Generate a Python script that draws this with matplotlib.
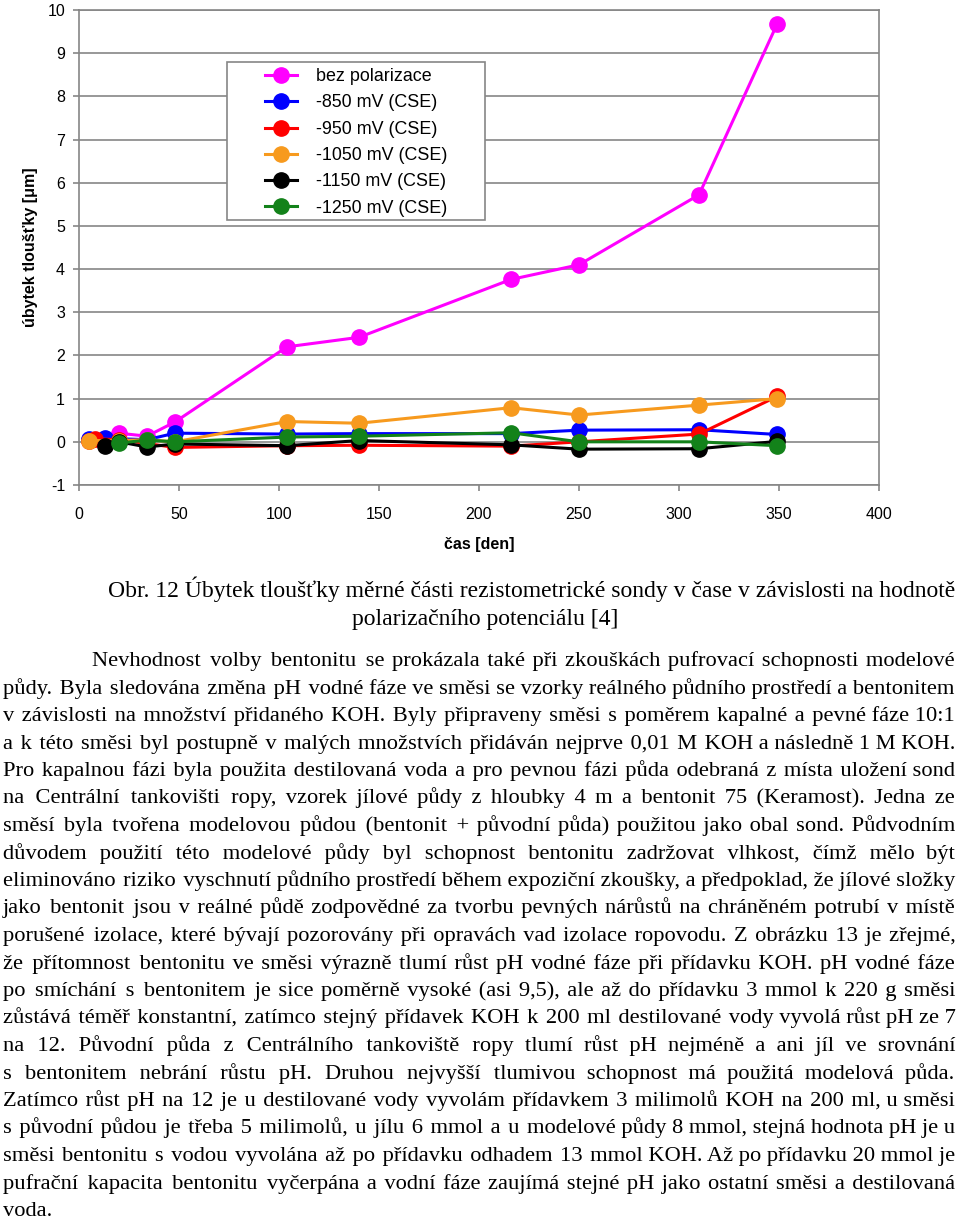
import matplotlib
matplotlib.use("Agg")
import matplotlib.pyplot as plt
from matplotlib.patches import Rectangle

# values (day, thickness loss in um)
days_bez = [5, 20, 34, 48, 104, 140, 216, 250, 310, 349]
bez = [0.05, 0.2, 0.13, 0.46, 2.2, 2.42, 3.76, 4.1, 5.72, 9.67]

days_850 = [5, 13, 34, 48, 104, 140, 216, 250, 310, 349]
mv_850 = [0.07, 0.08, 0.05, 0.2, 0.18, 0.19, 0.19, 0.27, 0.28, 0.17]

days_950 = [5, 8, 20, 48, 104, 140, 216, 250, 310, 349]
mv_950 = [0.02, 0.07, 0.05, -0.13, -0.09, -0.08, -0.1, 0.0, 0.18, 1.05]

days_1050 = [5, 20, 34, 48, 104, 140, 216, 250, 310, 349]
mv_1050 = [0.03, 0.03, 0.05, 0.0, 0.47, 0.43, 0.79, 0.62, 0.85, 1.0]

days_1150 = [13, 20, 34, 48, 104, 140, 216, 250, 310, 349]
mv_1150 = [-0.09, 0.0, -0.12, -0.05, -0.09, 0.03, -0.07, -0.17, -0.16, 0.01]

days_1250 = [20, 34, 48, 104, 140, 216, 250, 310, 349]
mv_1250 = [-0.03, 0.04, 0.0, 0.11, 0.13, 0.21, 0.0, 0.0, -0.09]

labels = ["bez polarizace", "-850 mV (CSE)", "-950 mV (CSE)",
          "-1050 mV (CSE)", "-1150 mV (CSE)", "-1250 mV (CSE)"]
colors = ["#FF00FF", "#0000FF", "#FF0000", "#F79A1E", "#000000", "#13821A"]

xticks = [0, 50, 100, 150, 200, 250, 300, 350, 400]
yticks = [-1, 0, 1, 2, 3, 4, 5, 6, 7, 8, 9, 10]

caption_lines = [
    "Obr. 12 Úbytek tloušťky měrné části rezistometrické sondy v čase v závislosti na hodnotě",
    "polarizačního potenciálu [4]",
]

paragraph = [
    "Nevhodnost volby bentonitu se prokázala také při zkouškách pufrovací schopnosti modelové",
    "půdy. Byla sledována změna pH vodné fáze ve směsi se vzorky reálného půdního prostředí a bentonitem",
    "v závislosti na množství přidaného KOH. Byly připraveny směsi s poměrem kapalné a pevné fáze 10:1",
    "a k této směsi byl postupně v malých množstvích přidáván nejprve 0,01 M KOH a následně 1 M KOH.",
    "Pro kapalnou fázi byla použita destilovaná voda a pro pevnou fázi půda odebraná z místa uložení sond",
    "na Centrální tankovišti ropy, vzorek jílové půdy z hloubky 4 m a bentonit 75 (Keramost). Jedna ze",
    "směsí byla tvořena modelovou půdou (bentonit + původní půda) použitou jako obal sond. Půdvodním",
    "důvodem použití této modelové půdy byl schopnost bentonitu zadržovat vlhkost, čímž mělo být",
    "eliminováno riziko vyschnutí půdního prostředí během expoziční zkoušky, a předpoklad, že jílové složky",
    "jako bentonit jsou v reálné půdě zodpovědné za tvorbu pevných nárůstů na chráněném potrubí v místě",
    "porušené izolace, které bývají pozorovány při opravách vad izolace ropovodu. Z obrázku 13 je zřejmé,",
    "že přítomnost bentonitu ve směsi výrazně tlumí růst pH vodné fáze při přídavku KOH. pH vodné fáze",
    "po smíchání s bentonitem je sice poměrně vysoké (asi 9,5), ale až do přídavku 3 mmol k 220 g směsi",
    "zůstává téměř konstantní, zatímco stejný přídavek KOH k 200 ml destilované vody vyvolá růst pH ze 7",
    "na 12. Původní půda z Centrálního tankoviště ropy tlumí růst pH nejméně a ani jíl ve srovnání",
    "s bentonitem nebrání růstu pH. Druhou nejvyšší tlumivou schopnost má použitá modelová půda.",
    "Zatímco růst pH na 12 je u destilované vody vyvolám přídavkem 3 milimolů KOH na 200 ml, u směsi",
    "s původní půdou je třeba 5 milimolů, u jílu 6 mmol a u modelové půdy 8 mmol, stejná hodnota pH je u",
    "směsi bentonitu s vodou vyvolána až po přídavku odhadem 13 mmol KOH. Až po přídavku 20 mmol je",
    "pufrační kapacita bentonitu vyčerpána a vodní fáze zaujímá stejné pH jako ostatní směsi a destilovaná",
    "voda.",
]

W, H = 960, 1222
fig = plt.figure(figsize=(W / 100, H / 100), dpi=100)
fig.patch.set_facecolor("white")

ax = fig.add_axes([79 / W, 1 - 485 / H, 800 / W, 475 / H])
sans = "Liberation Sans"
gray = "#868686"

series = [(days_bez, bez), (days_850, mv_850), (days_950, mv_950),
          (days_1050, mv_1050), (days_1150, mv_1150), (days_1250, mv_1250)]
for (d, v), lab, c in zip(series, labels, colors):
    ax.plot(d, v, color=c, lw=2.2, marker="o", ms=11, label=lab)

ax.set_xlim(0, 400)
ax.set_ylim(-1, 10)
ax.set_xticks(xticks)
ax.set_yticks(yticks)
ax.set_xticklabels([str(t) for t in xticks], fontsize=11.5, family=sans)
ax.set_yticklabels([str(t) for t in yticks], fontsize=11.5, family=sans)
ax.yaxis.grid(True, color=gray, lw=1.2)
ax.set_axisbelow(True)
for s in ax.spines.values():
    s.set_color(gray)
    s.set_linewidth(1.2)
ax.tick_params(axis="both", color=gray, length=4, width=1.2)
ax.tick_params(axis="x", pad=11.5)
ax.tick_params(axis="y", pad=6)
ax.set_xlabel("čas [den]", fontsize=11.5, family=sans, fontweight="bold", labelpad=11.5)
ax.set_ylabel("úbytek tloušťky [μm]", fontsize=11.5, family=sans, fontweight="bold", labelpad=7)

# legend box drawn separately so its padding matches the original
ax.add_patch(Rectangle((0.185, 0.558), 0.3225, 0.3325, transform=ax.transAxes,
                       facecolor="white", edgecolor=gray, lw=1.2, zorder=5))
leg = ax.legend(loc="upper left", bbox_to_anchor=(0.2165, 0.904), frameon=False,
                prop={"family": sans, "size": 12.9}, labelspacing=0.52,
                handlelength=1.79, handletextpad=1.06, borderpad=0.2)
leg.set_zorder(6)

# text below the chart; lines are justified by padding the gaps with hair spaces
serif = ["Liberation Serif", "DejaVu Serif"]
HAIR = "\u200a"
renderer = fig.canvas.get_renderer()


def text_width(s, fs):
    t = fig.text(0, 0, s, fontsize=fs, family=serif)
    w = t.get_window_extent(renderer).width
    t.remove()
    return w


def put_line(line, x0, x1, y, fs, justify=True):
    words = line.split(" ")
    s = line
    if justify and len(words) > 1:
        hair_w = (text_width("a" + HAIR * 40 + "a", fs) - text_width("aa", fs)) / 40
        extra = x1 - x0 - text_width(line, fs)
        n = max(0, int(round(extra / hair_w)))
        gaps = len(words) - 1
        parts = [words[0]]
        for k in range(gaps):
            cnt = n // gaps + (1 if k < n % gaps else 0)
            parts.append(" " + HAIR * cnt + words[k + 1])
        s = "".join(parts)
    fig.text(x0 / W, 1 - y / H, s, fontsize=fs, family=serif, va="baseline", ha="left")


put_line(caption_lines[0], 108, 955, 597, 17.05, justify=False)
put_line(caption_lines[1], 352, 612, 625, 17.05, justify=False)

for i, line in enumerate(paragraph):
    y = 666 + i * 27.5
    x0 = 92 if i == 0 else 3
    put_line(line, x0, 955, y, 16.2, justify=(i < len(paragraph) - 1))

fig.savefig("out.png", dpi=100)
